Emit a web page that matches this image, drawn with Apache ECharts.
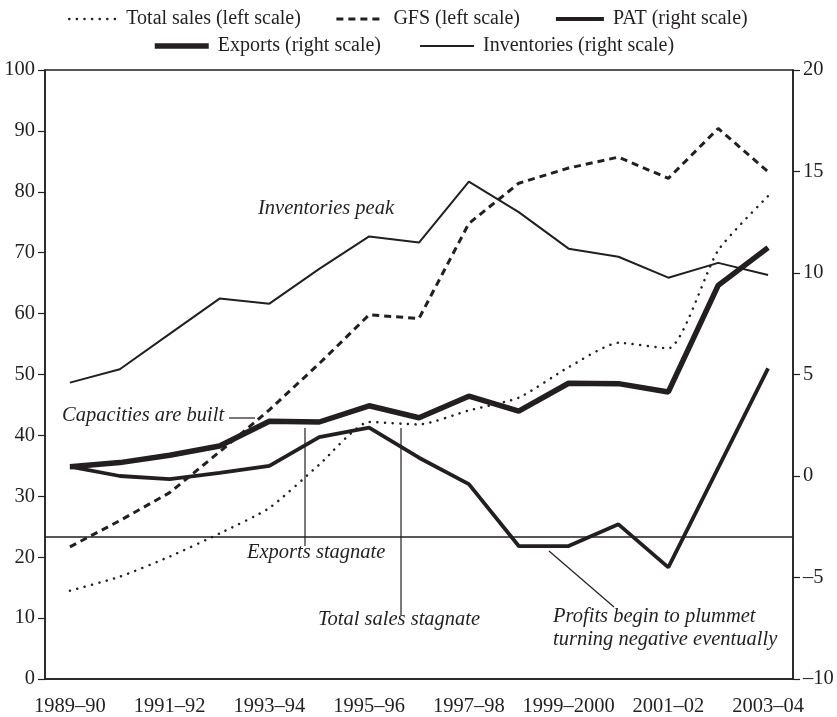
<!DOCTYPE html>
<html>
<head>
<meta charset="utf-8">
<script src="https://cdn.jsdelivr.net/npm/echarts@6/dist/echarts.min.js"></script>
<style>
  html, body { margin: 0; padding: 0; background: #fff; }
  #chart { width: 837px; height: 717px; }
</style>
</head>
<body>
<div id="chart"></div>
<script>
const years = ["1989–90", "1990–91", "1991–92", "1992–93", "1993–94", "1994–95", "1995–96",
  "1996–97", "1997–98", "1998–99", "1999–2000", "2000–01", "2001–02", "2002–03", "2003–04"];

// left scale
const totalSales = [14.5, 16.8, 20.1, 23.9, 28.1, 35.2, 42.2, 41.8, 44.1, 46.2, 51.2, 55.2, 54.3, 70.4, 79.3];
const gfs = [21.7, 26.0, 30.6, 37.3, 44.2, 51.8, 59.8, 59.2, 74.8, 81.4, 83.9, 85.7, 82.2, 90.4, 83.3];

// right scale
const pat = [0.46, 0.0, -0.15, 0.15, 0.5, 1.92, 2.38, 0.9, -0.4, -3.45, -3.45, -2.38, -4.5, 0.4, 5.3];
const exportsData = [0.46, 0.66, 1.02, 1.48, 2.7, 2.66, 3.46, 2.87, 3.93, 3.2, 4.57, 4.55, 4.14, 9.39, 11.25];
const inventories = [4.6, 5.26, 7.0, 8.74, 8.49, 10.2, 11.8, 11.5, 14.5, 13.0, 11.2, 10.8, 9.77, 10.5, 9.9];

const refLine = -3;

const ink = "#231f20";
const serif = "Liberation Serif";

// line looks, shared by series and legend
const dotted = { color: ink, width: 2.5, type: [0.1, 7.5], cap: "round" };
const dashed = { color: ink, width: 3, type: [7, 5] };
const patLine = { color: ink, width: 3.8 };
const expLine = { color: ink, width: 5.5 };
const invLine = { color: ink, width: 2 };

const chart = echarts.init(document.getElementById("chart"));

function note(text, x, y) {
  return {
    type: "text", left: x, top: y,
    style: { text: text, font: "italic 20.5px '" + serif + "'", fill: ink }
  };
}
function stroke(x1, y1, x2, y2) {
  return {
    type: "line",
    shape: { x1: x1, y1: y1, x2: x2, y2: y2 },
    style: { stroke: ink, lineWidth: 1.2 }
  };
}

const legendText = { fontFamily: serif, fontSize: 20, color: ink, padding: [0, 0, 0, 4] };
const axisText = { fontSize: 20.5, color: ink, fontFamily: serif };

chart.setOption({
  animation: false,
  color: [ink],
  textStyle: { fontFamily: serif, color: ink },
  grid: { left: 45, right: 44, top: 70, bottom: 38, show: true, borderColor: ink, borderWidth: 1.5 },
  legend: [
    {
      data: [
        { name: "Total sales (left scale)", lineStyle: dotted },
        { name: "GFS (left scale)", lineStyle: dashed },
        { name: "PAT (right scale)", lineStyle: patLine }
      ],
      top: 4, left: 63, itemWidth: 48, itemHeight: 14, itemGap: 34,
      itemStyle: { opacity: 0 },
      textStyle: legendText
    },
    {
      data: [
        { name: "Exports (right scale)", lineStyle: expLine },
        { name: "Inventories (right scale)", lineStyle: invLine }
      ],
      top: 31, left: 147, itemWidth: 54, itemHeight: 14, itemGap: 38,
      itemStyle: { opacity: 0 },
      textStyle: legendText
    }
  ],
  xAxis: {
    type: "category",
    data: years,
    boundaryGap: true,
    axisLine: { lineStyle: { color: ink, width: 1.5 } },
    axisTick: { inside: true, length: 12, lineStyle: { color: ink, width: 1.5 } },
    axisLabel: Object.assign({ interval: 1, margin: 17 }, axisText)
  },
  yAxis: [
    {
      type: "value", min: 0, max: 100, interval: 10, position: "left",
      splitLine: { show: false },
      axisLine: { show: true, lineStyle: { color: ink, width: 1.5 } },
      axisTick: { show: true, length: 7, lineStyle: { color: ink, width: 1.2 } },
      axisLabel: Object.assign({ margin: 10 }, axisText)
    },
    {
      type: "value", min: -10, max: 20, interval: 5, position: "right",
      splitLine: { show: false },
      axisLine: { show: true, lineStyle: { color: ink, width: 1.5 } },
      axisTick: { show: true, length: 7, lineStyle: { color: ink, width: 1.2 } },
      axisLabel: Object.assign({ margin: 10, formatter: v => String(v).replace("-", "–") }, axisText)
    }
  ],
  series: [
    {
      name: "Total sales (left scale)", type: "line", yAxisIndex: 0, data: totalSales,
      symbol: "none", smooth: 0.2, lineStyle: dotted
    },
    {
      name: "GFS (left scale)", type: "line", yAxisIndex: 0, data: gfs,
      symbol: "none", lineStyle: dashed
    },
    {
      name: "PAT (right scale)", type: "line", yAxisIndex: 1, data: pat,
      symbol: "none", lineStyle: patLine,
      markLine: {
        silent: true, symbol: "none", label: { show: false },
        lineStyle: { color: ink, width: 1.5, type: "solid" },
        data: [{ yAxis: refLine }]
      }
    },
    {
      name: "Exports (right scale)", type: "line", yAxisIndex: 1, data: exportsData,
      symbol: "none", lineStyle: expLine
    },
    {
      name: "Inventories (right scale)", type: "line", yAxisIndex: 1, data: inventories,
      symbol: "none", lineStyle: invLine
    }
  ],
  graphic: [
    note("Inventories peak", 258, 199),
    note("Capacities are built", 62, 406),
    stroke(229, 418, 255, 418),
    note("Exports stagnate", 247, 543),
    stroke(305, 428, 305, 546),
    note("Total sales stagnate", 318, 610),
    stroke(401, 428, 401, 615),
    note("Profits begin to plummet", 553, 607),
    note("turning negative eventually", 553, 630),
    stroke(549, 551, 614, 607)
  ]
});
</script>
</body>
</html>
